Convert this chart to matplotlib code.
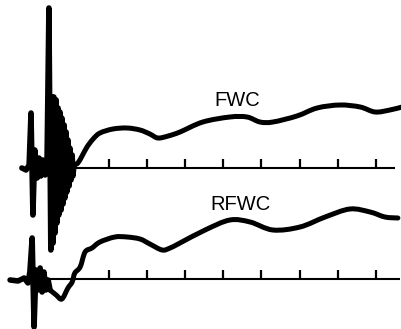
import matplotlib.pyplot as plt
from matplotlib.path import Path
from matplotlib.patches import PathPatch

# time in tick divisions, amplitude in arbitrary units (baseline = 0)
tick_t = [1, 2, 3, 4, 5, 6, 7, 8]

# FWC: early burst then smooth wave
fwc_burst_t = [-1.29, -1.18, -1.10, -1.05, -1.00, -0.95, -0.89, -0.84, -0.79, -0.74,
               -0.68, -0.63, -0.58, -0.53, -0.50, -0.47, -0.45, -0.42, -0.39, -0.37,
               -0.34, -0.32, -0.29, -0.26, -0.24, -0.21, -0.18, -0.16, -0.13, -0.11,
               -0.08, -0.05, -0.03, 0.00, 0.03, 0.05, 0.08]
fwc_burst_a = [0.0, -0.2, 0.3, 5.5, -4.7, 1.8, -1.0, 1.0, -0.8, 0.8,
               -0.7, 0.6, 16.0, -8.2, 7.1, -7.5, 7.1, -6.5, 6.8, -5.5,
               6.0, -4.7, 5.6, -4.2, 5.0, -3.6, 4.3, -3.0, 3.6, -2.4,
               2.8, -1.8, 2.0, -1.2, 1.3, -0.8, 0.4]
fwc_t = [0.08, 0.18, 0.29, 0.42, 0.58, 0.76, 1.10, 1.47, 1.81, 2.07, 2.28, 2.55,
         2.86, 3.46, 4.17, 4.62, 4.96, 5.30, 5.93, 6.46, 7.06, 7.59, 7.98, 8.37, 8.69]
fwc_a = [0.3, 0.5, 1.2, 2.1, 2.9, 3.5, 3.9, 4.0, 3.8, 3.4, 3.0, 3.2,
         3.6, 4.6, 5.1, 5.1, 4.6, 4.6, 5.2, 6.0, 6.3, 6.1, 5.6, 5.8, 6.1]

# RFWC: smaller burst, dip below baseline, then smooth wave
rfwc_burst_t = [-1.60, -1.39, -1.23, -1.13, -1.08, -1.02, -0.97, -0.92, -0.87, -0.81,
                -0.76, -0.71, -0.66, -0.60, -0.55]
rfwc_burst_a = [-0.1, -0.2, 0.1, -0.4, 0.7, 4.1, -4.8, 0.9, -1.1, 1.1,
                -1.3, 0.7, -1.1, -0.1, -1.1]
rfwc_t = [-0.55, -0.39, -0.24, -0.08, 0.03, 0.10, 0.24, 0.37, 0.55, 0.76, 1.15, 1.47,
          1.81, 2.07, 2.39, 2.60, 2.86, 3.52, 4.17, 4.70, 5.30, 6.01, 6.67, 7.32,
          7.85, 8.24, 8.58]
rfwc_a = [-1.1, -1.6, -2.0, -0.9, -0.3, 0.6, 1.2, 2.7, 3.1, 3.7, 4.2, 4.2,
          4.0, 3.5, 2.9, 3.1, 3.6, 4.9, 5.9, 5.7, 4.9, 5.2, 6.2, 7.0,
          6.7, 6.2, 6.1]

traces = [
    ("FWC", fwc_burst_t, fwc_burst_a, fwc_t, fwc_a, 0.0, (-1.29, 8.50), (4.36, 6.8)),
    ("RFWC", rfwc_burst_t, rfwc_burst_a, rfwc_t, rfwc_a, -11.1, (-1.60, 8.64), (4.44, 7.4)),
]


def smooth_path(xs, ys):
    # Catmull-Rom through the read points, drawn as cubic Bezier segments
    pts = list(zip(xs, ys))
    verts = [pts[0]]
    codes = [Path.MOVETO]
    for i in range(len(pts) - 1):
        p0 = pts[i - 1] if i > 0 else pts[i]
        p1, p2 = pts[i], pts[i + 1]
        p3 = pts[i + 2] if i + 2 < len(pts) else pts[i + 1]
        c1 = (p1[0] + (p2[0] - p0[0]) / 6, p1[1] + (p2[1] - p0[1]) / 6)
        c2 = (p2[0] - (p3[0] - p1[0]) / 6, p2[1] - (p3[1] - p1[1]) / 6)
        verts += [c1, c2, p2]
        codes += [Path.CURVE4] * 3
    return Path(verts, codes)


fig = plt.figure(figsize=(4.02, 3.29), dpi=100)
ax = fig.add_axes([0, 0, 1, 1])

for name, bt, ba, st, sa, off, (x0, x1), (lx, ly) in traces:
    # baseline with tick marks
    ax.plot([x0, x1], [off, off], color="black", lw=1.5, solid_capstyle="butt")
    for t in tick_t:
        ax.plot([t, t], [off, off + 0.9], color="black", lw=1.6, solid_capstyle="butt")
    ax.plot(bt, [a + off for a in ba], color="black", lw=4.0,
            solid_joinstyle="round", solid_capstyle="round")
    ax.add_patch(PathPatch(smooth_path(st, [a + off for a in sa]), fill=False,
                           edgecolor="black", lw=3.6, capstyle="round", joinstyle="round"))
    ax.text(lx, ly + off, name, ha="center", va="center", fontsize=14.5,
            family="Liberation Sans")

ax.set_xlim(-1.864, 8.688)
ax.set_ylim(-16.1, 16.8)
ax.axis("off")

fig.savefig("out.png", dpi=100)
